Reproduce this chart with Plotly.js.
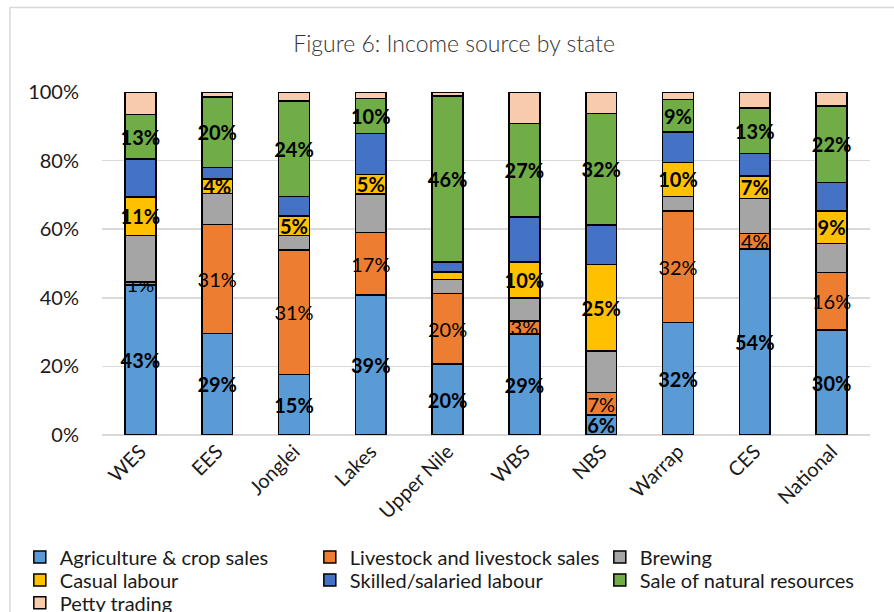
<!DOCTYPE html>
<html>
<head>
<meta charset="utf-8">
<script src="https://cdn.plot.ly/plotly-3.0.1.min.js"></script>
<style>html,body{margin:0;padding:0;background:#fff;}#chart{width:894px;height:612px;}</style>
</head>
<body>
<div id="chart"></div>
<script>
// Categories
const states = ['WES','EES','Jonglei','Lakes','Upper Nile','WBS','NBS','Warrap','CES','National'];

// Bar heights (share of each stacked column, %)
const agriculture = [43.7, 29.6, 17.6, 40.8, 20.7, 29.4, 5.8, 32.8, 54.2, 30.6];
const livestock   = [0.9, 31.8, 36.3, 18.2, 20.6, 3.9, 6.6, 32.5, 4.5, 16.8];
const brewing     = [13.5, 9.0, 4.2, 11.2, 4.1, 6.7, 12.1, 4.3, 10.2, 8.4];
const casual      = [11.3, 4.3, 5.7, 5.8, 2.1, 10.5, 25.2, 9.8, 6.6, 9.5];
const skilled     = [11.0, 3.3, 5.8, 11.9, 3.0, 13.1, 11.5, 8.9, 6.5, 8.3];
const natural     = [13.0, 20.5, 27.8, 10.2, 48.3, 27.2, 32.5, 9.5, 13.3, 22.3];
const petty       = [6.6, 1.5, 2.6, 1.9, 1.2, 9.2, 6.3, 2.2, 4.7, 4.1];

// Data labels as printed on the chart
const agricultureLabels = ['43%','29%','15%','39%','20%','29%','6%','32%','54%','30%'];
const livestockLabels   = ['1%','31%','31%','17%','20%','3%','7%','32%','4%','16%'];
const casualLabels      = ['11%','4%','5%','5%','','10%','25%','10%','7%','9%'];
const naturalLabels     = ['13%','20%','24%','10%','46%','27%','32%','9%','13%','22%'];

const yTickVals = [0, 20, 40, 60, 80, 100];
const yTickText = ['0%','20%','40%','60%','80%','100%'];

const FONT = 'Lato, "Open Sans", "Liberation Sans", sans-serif';

function mk(name, y, color, text, bold, legendId) {
  const t = {
    type: 'bar', name: name, x: states, y: y, legend: legendId,
    marker: {color: color, line: {color: '#000000', width: 1.5}},
    hoverinfo: 'skip'
  };
  if (text) {
    t.text = text;
    t.textposition = 'inside';
    t.insidetextanchor = 'middle';
    t.textangle = 0;
    t.constraintext = 'none';
    t.textfont = {family: FONT, size: 20, color: '#000000', weight: bold ? 'bold' : 'normal'};
  } else {
    t.textposition = 'none';
  }
  return t;
}

const data = [
  mk('Agriculture & crop sales', agriculture, '#5B9BD5', agricultureLabels, true, 'legend'),
  mk('Livestock and livestock sales', livestock, '#ED7D31', livestockLabels, false, 'legend'),
  mk('Brewing', brewing, '#A5A5A5', null, false, 'legend'),
  mk('Casual labour', casual, '#FFC000', casualLabels, true, 'legend2'),
  mk('Skilled/salaried labour', skilled, '#4472C4', null, false, 'legend2'),
  mk('Sale of natural resources', natural, '#70AD47', naturalLabels, true, 'legend2'),
  mk('Petty trading', petty, '#F8CBAD', null, false, 'legend3')
];

function legendRow(y) {
  return {
    orientation: 'h', traceorder: 'normal',
    xref: 'paper', x: -0.107, xanchor: 'left',
    yref: 'paper', y: y, yanchor: 'middle',
    entrywidth: 245, entrywidthmode: 'pixels',
    font: {family: FONT, size: 20, color: '#1a1a1a'},
    bgcolor: 'rgba(0,0,0,0)', itemclick: false, itemdoubleclick: false
  };
}

const layout = {
  width: 894, height: 612,
  margin: {l: 102, r: 24, t: 92, b: 177, autoexpand: false},
  paper_bgcolor: '#ffffff', plot_bgcolor: '#ffffff',
  font: {family: FONT, color: '#1a1a1a', size: 20},
  barmode: 'stack', bargap: 0.6,
  title: {
    text: 'Figure 6: Income source by state',
    font: {family: FONT, size: 23, color: '#333333', weight: 300},
    xref: 'container', x: 0.508, xanchor: 'center',
    yref: 'container', y: 0.928, yanchor: 'middle'
  },
  xaxis: {
    type: 'category', tickangle: -45, showgrid: false, showline: false, zeroline: false,
    ticks: '', tickfont: {family: FONT, size: 20, color: '#1a1a1a'}, fixedrange: true
  },
  yaxis: {
    range: [0, 100], tickvals: yTickVals, ticktext: yTickText,
    showgrid: true, gridcolor: '#D9D9D9', gridwidth: 1.5, zeroline: true, zerolinecolor: '#D9D9D9', zerolinewidth: 1.5,
    showline: false, ticks: '', ticklabelstandoff: 22,
    tickfont: {family: FONT, size: 20, color: '#1a1a1a'}, fixedrange: true
  },
  showlegend: true,
  legend: legendRow(-0.3554),
  legend2: legendRow(-0.4224),
  legend3: legendRow(-0.4894),
  shapes: [{
    type: 'rect', xref: 'paper', yref: 'paper',
    x0: -0.1198, x1: 1.2, y0: -0.7, y1: 1.2467,
    line: {color: '#D9D9D9', width: 1.5}, fillcolor: 'rgba(0,0,0,0)', layer: 'below'
  }]
};

Plotly.newPlot('chart', data, layout, {staticPlot: true, displayModeBar: false});
</script>
</body>
</html>
